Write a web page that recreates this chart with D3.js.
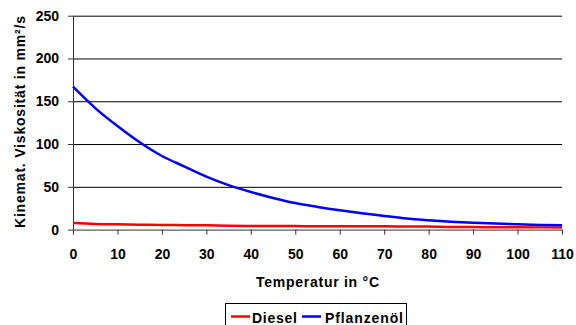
<!DOCTYPE html>
<html>
<head>
<meta charset="utf-8">
<script src="https://cdn.jsdelivr.net/npm/d3@7"></script>
<style>
  body { margin: 0; background: #fff; }
  text { font-family: "Liberation Sans", Arial, sans-serif; font-weight: bold; fill: #000; }
</style>
</head>
<body>
<script>
// temperatures (°C) and kinematic viscosity (mm²/s)
var temps = [0, 5, 10, 15, 20, 25, 30, 35, 40, 45, 50, 55, 60, 65, 70, 75, 80, 85, 90, 95, 100, 105, 110];
var diesel = [7.6, 6.6, 6.2, 5.8, 5.4, 5.2, 5.0, 4.5, 4.3, 4.2, 4.1, 4.0, 4.0, 3.9, 3.8, 3.7, 3.6, 3.0, 2.9, 2.8, 2.7, 2.6, 2.6];
var pflanzenoel = [167, 142, 121, 102, 86, 74, 62, 52, 44, 37, 31, 26.5, 22.5, 19, 16, 13, 11, 9.3, 8, 7, 6.2, 5.5, 5];
var xTicks = [0, 10, 20, 30, 40, 50, 60, 70, 80, 90, 100, 110];
var yTicks = [0, 50, 100, 150, 200, 250];
var seriesNames = ["Diesel", "Pflanzenöl"];
var seriesColours = ["#ff0000", "#0000ff"];

var W = 576, H = 325;
var plotLeft = 73, plotRight = 562, plotTop = 15.7, plotBottom = 229.6;

var svg = d3.select("body").append("svg")
    .attr("width", W)
    .attr("height", H);

var x = d3.scaleLinear().domain([0, 110]).range([plotLeft, plotRight]);
var y = d3.scaleLinear().domain([0, 250]).range([plotBottom, plotTop]);

// horizontal grid lines
svg.append("g")
    .attr("transform", "translate(" + plotLeft + ",0)")
    .call(d3.axisLeft(y).tickValues(yTicks.slice(1)).tickSize(-(plotRight - plotLeft)).tickFormat(""))
    .call(g => g.select(".domain").remove())
    .call(g => g.selectAll("line").attr("stroke", "#000").attr("stroke-width", 1));

// y axis
var yAxis = svg.append("g")
    .attr("transform", "translate(" + plotLeft + ",0)")
    .call(d3.axisLeft(y).tickValues(yTicks).tickSize(5).tickPadding(9).tickSizeOuter(0));
yAxis.select(".domain").attr("stroke", "#333");
yAxis.selectAll("line").attr("stroke", "#333");
yAxis.selectAll("text").style("font-size", "14px").attr("font-family", null);

// x axis
var xAxis = svg.append("g")
    .attr("transform", "translate(0," + plotBottom + ")")
    .call(d3.axisBottom(x).tickValues(xTicks).tickSize(5).tickPadding(14).tickSizeOuter(0));
xAxis.select(".domain").attr("stroke", "#333");
xAxis.selectAll("line").attr("stroke", "#333");
xAxis.selectAll("text").style("font-size", "14px").attr("font-family", null);

// series lines
var line = d3.line()
    .x(function(d) { return x(d[0]); })
    .y(function(d) { return y(d[1]); })
    .curve(d3.curveMonotoneX);

[diesel, pflanzenoel].forEach(function(vals, i) {
  svg.append("path")
      .datum(temps.map(function(t, j) { return [t, vals[j]]; }))
      .attr("fill", "none")
      .attr("stroke", seriesColours[i])
      .attr("stroke-width", 2.5)
      .attr("d", line);
});

// axis titles
svg.append("text")
    .attr("x", 317.5)
    .attr("y", 287)
    .attr("text-anchor", "middle")
    .attr("textLength", 123)
    .attr("lengthAdjust", "spacing")
    .style("font-size", "14px")
    .text("Temperatur in °C");

svg.append("text")
    .attr("transform", "translate(25,122) rotate(-90)")
    .attr("text-anchor", "middle")
    .attr("textLength", 212)
    .attr("lengthAdjust", "spacing")
    .style("font-size", "14px")
    .text("Kinemat. Viskosität in mm²/s");

// legend
var legend = svg.append("g");
legend.append("rect")
    .attr("x", 225.5)
    .attr("y", 303.5)
    .attr("width", 181)
    .attr("height", 30)
    .attr("fill", "#fff")
    .attr("stroke", "#000")
    .attr("stroke-width", 1);

var legendItems = [
  { lx: 231, tx: 252, tw: 45 },
  { lx: 302, tx: 325, tw: 78 }
];
legendItems.forEach(function(it, i) {
  legend.append("line")
      .attr("x1", it.lx).attr("x2", it.lx + 19)
      .attr("y1", 316.5).attr("y2", 316.5)
      .attr("stroke", seriesColours[i])
      .attr("stroke-width", 2.5);
  legend.append("text")
      .attr("x", it.tx)
      .attr("y", 323)
      .attr("textLength", it.tw)
      .attr("lengthAdjust", "spacing")
      .style("font-size", "14px")
      .text(seriesNames[i]);
});
</script>
</body>
</html>
